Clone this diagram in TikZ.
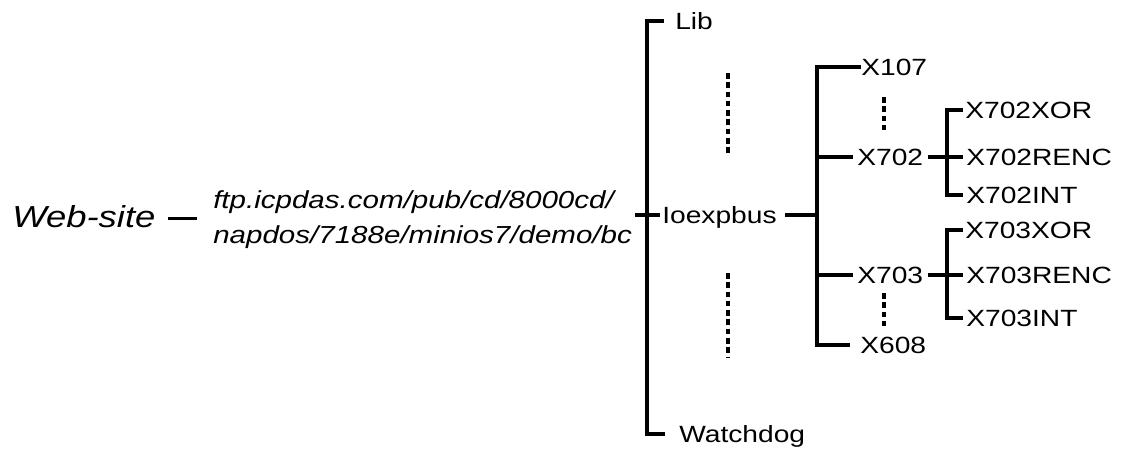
\documentclass[tikz,border=0pt]{standalone}
\usepackage{fontspec}
\setmainfont{Liberation Sans}[FakeStretch=1.2]

\begin{document}
\begin{tikzpicture}[x=0.025cm,y=-0.025cm,
 br/.style={line width=2.6pt},
 dotl/.style={line width=2.6pt,dash pattern=on 4pt off 2.6pt},
 nd/.style={anchor=west,inner sep=0pt,font=\fontsize{16.7}{20}\selectfont,text height=12pt,text depth=0pt}]
\useasboundingbox (0,0) rectangle (1125,448);
% left part
\node[anchor=west,inner sep=0pt,font=\itshape\fontsize{21.6}{25}\selectfont,text height=15.4pt,text depth=0pt] (web) at (12,217) {Web-site};
\node[anchor=base west,inner sep=0pt,align=left,font=\itshape\fontsize{17.5}{24.2}\selectfont] (ftp) at (213,243) {ftp.icpdas.com/pub/cd/8000cd/\\napdos/7188e/minios7/demo/bc};
% first level
\node[nd] (lib) at (675,21) {Lib};
\node[nd] (iox) at (662,215) {Ioexpbus};
\node[nd] (wd) at (679,434) {Watchdog};
% second level
\node[nd] (x107) at (861,67) {X107};
\node[nd] (x702) at (857,157) {X702};
\node[nd] (x703) at (857,275) {X703};
\node[nd] (x608) at (860,345) {X608};
% third level
\node[nd] (x702xor) at (965,110) {X702XOR};
\node[nd] (x702renc) at (966,157) {X702RENC};
\node[nd] (x702int) at (966,195) {X702INT};
\node[nd] (x703xor) at (965,230) {X703XOR};
\node[nd] (x703renc) at (966,275) {X703RENC};
\node[nd] (x703int) at (966,318) {X703INT};
\coordinate (j1) at (647,215);
\coordinate (j2) at (817,215);
\coordinate (j3) at (947,157);
\coordinate (j4) at (947,275);
\draw[br,shorten <=9pt,shorten >=11.5pt] ([yshift=-1pt]web.east) -- ([yshift=-1pt]web.east -| ftp.west);
\draw[br,shorten <=2pt,shorten >=1.5pt] (ftp.east |- j1) -- (iox.west);
\draw[br] ([xshift=-7.8pt]lib.west) -| (j1) |- ([xshift=-10pt]wd.west);
\draw[br,shorten <=6pt] (iox.east) -- (j2);
\draw[br,shorten >=4pt] (x107.west) -| (j2) |- ([xshift=-3pt]x608.west);
\draw[br,shorten >=3pt] (j2) |- (x702.west);
\draw[br,shorten >=3pt] (j2) |- (x703.west);
\draw[br,shorten <=3pt,shorten >=2pt] (x702.east) -- (x702renc.west);
\draw[br,shorten <=3pt,shorten >=2pt] (x703.east) -- (x703renc.west);
\draw[br] ([xshift=-1.5pt]x702xor.west) -| (j3) |- ([xshift=-2pt]x702int.west);
\draw[br] ([xshift=-1.5pt]x703xor.west) -| (j4) |- ([xshift=-2pt]x703int.west);
% dotted gaps
\draw[dotl] (728,73) -- (728,155);
\draw[dotl] (728,273) -- (728,358);
\draw[dotl] (884,97) -- (884,130);
\draw[dotl] (884,293) -- (884,327);
\end{tikzpicture}
\end{document}
